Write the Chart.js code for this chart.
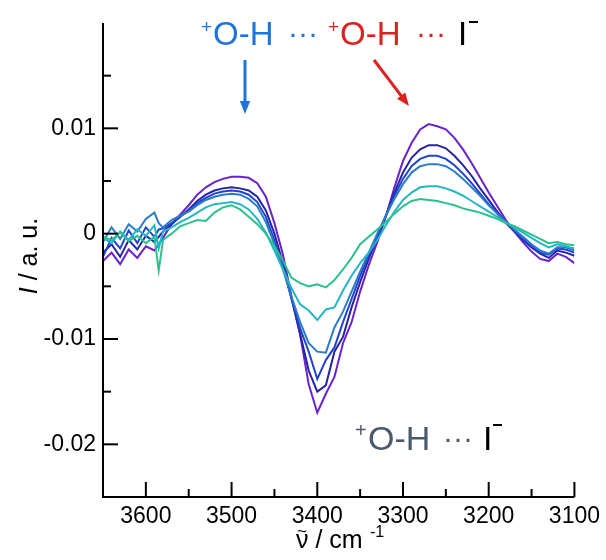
<!DOCTYPE html>
<html>
<head>
<meta charset="utf-8">
<script src="https://cdn.jsdelivr.net/npm/chart.js@4.4.0/dist/chart.umd.min.js"></script>
<style>
    html, body { margin: 0; padding: 0; background: #fff; }
</style>
</head>
<body>
<canvas id="spectraChart" width="606" height="560"></canvas>
<script>
// Wavenumber axis (cm-1), shared by every trace
const wavenumbers = [
    3650, 3640, 3630, 3620, 3610, 3600, 3590, 3585, 3580, 3570,
    3560, 3550, 3540, 3530, 3520, 3510, 3500, 3490, 3480, 3470,
    3460, 3450, 3440, 3430, 3420, 3410, 3400, 3390, 3380, 3370,
    3360, 3350, 3340, 3330, 3320, 3310, 3300, 3290, 3280, 3270,
    3260, 3250, 3240, 3230, 3220, 3210, 3200, 3190, 3180, 3170,
    3160, 3150, 3140, 3130, 3120, 3110, 3100
];

// Intensities, in units of 1e-3
const tracePurple = [
    -2.6, -1.8, -2.9, -1.5, -2.3, -1.2, -1.6, -1.0, -0.4, 0.9,
    1.8, 2.7, 3.7, 4.4, 4.9, 5.2, 5.4, 5.4, 5.3, 4.8,
    3.5, 1.0, -2.0, -6.0, -9.6, -14.3, -17.0, -15.2, -13.6, -10.4,
    -8.4, -5.5, -3.0, -0.8, 1.6, 4.4, 6.9, 8.6, 9.9, 10.4,
    10.2, 9.9, 9.1, 8.0, 6.7, 5.3, 3.9, 2.6, 1.3, 0.2,
    -0.8, -1.7, -2.4, -2.6, -1.9, -2.2, -2.8
];
const traceNavy = [
    -1.8, -1.0, -2.2, -0.6, -1.5, -0.2, -0.8, -0.3, 0.2, 0.9,
    1.6, 2.3, 3.1, 3.7, 4.1, 4.3, 4.4, 4.3, 4.1, 3.5,
    2.2, 0.0, -2.8, -6.2, -9.5, -13.0, -15.0, -14.4, -11.2, -9.8,
    -7.0, -4.6, -2.4, -0.4, 1.7, 3.9, 5.8, 7.2, 8.0, 8.4,
    8.4, 8.1, 7.4, 6.5, 5.5, 4.3, 3.2, 2.1, 1.1, 0.2,
    -0.6, -1.3, -1.9, -2.3, -1.6, -1.8, -2.1
];
const traceBlue = [
    -2.2, -0.4, -1.4, 0.3, -0.9, 0.6, -0.3, 0.4, 0.5, 1.0,
    1.6, 2.2, 2.9, 3.4, 3.8, 4.0, 4.1, 4.0, 3.7, 3.0,
    1.6, -0.6, -3.2, -6.2, -9.0, -11.2, -13.8, -12.0, -10.8, -8.4,
    -6.2, -4.0, -2.0, -0.2, 1.7, 3.6, 5.2, 6.4, 7.1, 7.4,
    7.4, 7.1, 6.5, 5.7, 4.8, 3.8, 2.8, 1.9, 1.0, 0.2,
    -0.5, -1.2, -1.8, -2.0, -1.4, -1.5, -1.8
];
const traceSteel = [
    -0.8, 0.6, -0.5, 0.9, 0.2, 1.4, 2.0, 1.0, 0.6, 1.3,
    1.7, 2.1, 2.7, 3.2, 3.5, 3.7, 3.8, 3.7, 3.3, 2.6,
    1.1, -1.0, -3.4, -6.0, -8.4, -10.4, -11.2, -11.3, -8.9, -7.4,
    -5.5, -3.6, -1.8, 0.0, 1.7, 3.3, 4.7, 5.8, 6.4, 6.6,
    6.6, 6.4, 5.9, 5.2, 4.4, 3.6, 2.7, 1.9, 1.1, 0.4,
    -0.3, -1.0, -1.6, -1.9, -1.3, -1.3, -1.6
];
const traceTeal = [
    -0.4, -0.9, 0.2, -0.6, 0.4, -0.2, 0.8, -1.4, 0.2, 0.6,
    1.1, 1.5, 2.0, 2.5, 2.8, 2.9, 3.0, 2.8, 2.3, 1.4,
    0.1, -1.6, -3.4, -5.2, -6.7, -7.3, -8.2, -7.2, -7.0, -5.4,
    -4.0, -2.8, -1.8, -0.6, 0.8, 2.1, 3.2, 3.9, 4.4, 4.5,
    4.5, 4.3, 4.0, 3.6, 3.1, 2.6, 2.1, 1.6, 1.1, 0.6,
    0.1, -0.4, -0.9, -1.3, -1.0, -1.2, -1.4
];
const traceGreen = [
    -0.3, -0.6, 0.1, -0.7, -0.2, -0.9, -0.3, -3.5, -0.6, 0.0,
    0.7, 1.0, 1.3, 1.2, 2.0, 2.5, 2.7, 2.3, 1.6, 0.9,
    0.0, -1.2, -2.6, -4.2, -4.7, -5.0, -4.8, -5.1, -4.4, -3.4,
    -2.3, -1.0, -0.3, 0.4, 1.1, 1.9, 2.6, 3.1, 3.3, 3.2,
    3.1, 2.9, 2.7, 2.4, 2.2, 2.0, 1.7, 1.4, 1.0, 0.7,
    0.3, -0.1, -0.5, -0.9, -0.8, -1.0, -1.1
];

// Tick labels
const xLabelValues = [3600, 3500, 3400, 3300, 3200, 3100];
const yLabelValues = [10, 0, -10, -20];
const yLabelTexts = ['0.01', '0', '-0.01', '-0.02'];

const fontFamily = '"Liberation Sans", Arial, sans-serif';

// Bottom trace first so the strongest one sits on top
const traces = [
    { values: traceGreen, color: '#2cc08c' },
    { values: traceTeal, color: '#22b6c8' },
    { values: traceSteel, color: '#2a7cc8' },
    { values: traceBlue, color: '#2244cc' },
    { values: traceNavy, color: '#2624a4' },
    { values: tracePurple, color: '#6a22cc' }
];

// Write a row of text pieces, each with its own x, baseline, size and colour
function drawPieces(ctx, pieces) {
    pieces.forEach(p => {
        ctx.font = (p.italic ? 'italic ' : '') + p.size + 'px ' + fontFamily;
        ctx.fillStyle = p.color;
        ctx.fillText(p.text, p.x, p.y);
    });
}

function drawArrow(ctx, x1, y1, x2, y2, color) {
    const angle = Math.atan2(y2 - y1, x2 - x1);
    const head = 14;
    ctx.strokeStyle = color;
    ctx.fillStyle = color;
    ctx.lineWidth = 3;
    ctx.beginPath();
    ctx.moveTo(x1, y1);
    ctx.lineTo(x2 - head * 0.8 * Math.cos(angle), y2 - head * 0.8 * Math.sin(angle));
    ctx.stroke();
    ctx.beginPath();
    ctx.moveTo(x2, y2);
    ctx.lineTo(x2 - head * Math.cos(angle - 0.38), y2 - head * Math.sin(angle - 0.38));
    ctx.lineTo(x2 - head * Math.cos(angle + 0.38), y2 - head * Math.sin(angle + 0.38));
    ctx.closePath();
    ctx.fill();
}

// Axis lines, inward ticks, axis titles and annotations
const decorations = {
    id: 'decorations',
    afterDraw(chart) {
        const { ctx, chartArea: area, scales: { x, y } } = chart;
        ctx.save();
        ctx.strokeStyle = '#000';
        ctx.lineWidth = 2;
        ctx.beginPath();
        ctx.moveTo(area.left, area.top);
        ctx.lineTo(area.left, area.bottom);
        ctx.lineTo(area.right, area.bottom);
        ctx.stroke();

        x.ticks.forEach(t => {
            if (t.value >= 3650) return;
            const px = x.getPixelForValue(t.value);
            const len = t.value % 100 === 0 ? 15 : 8;
            ctx.beginPath();
            ctx.moveTo(px, area.bottom);
            ctx.lineTo(px, area.bottom - len);
            ctx.stroke();
        });
        y.ticks.forEach(t => {
            if (t.value <= -25 || t.value >= 20) return;
            const py = y.getPixelForValue(t.value);
            const len = t.value % 10 === 0 ? 15 : 8;
            ctx.beginPath();
            ctx.moveTo(area.left, py);
            ctx.lineTo(area.left + len, py);
            ctx.stroke();
        });

        ctx.textAlign = 'left';
        ctx.textBaseline = 'alphabetic';

        // x title: wavenumber / cm-1
        drawPieces(ctx, [
            { text: '\u03BD / cm', x: 296, y: 548, size: 25, color: '#000' },
            { text: '~', x: 297, y: 537, size: 17, color: '#000' },
            { text: '-1', x: 370, y: 537, size: 16, color: '#000' }
        ]);

        // y title, rotated
        ctx.save();
        ctx.translate(37, 256);
        ctx.rotate(-Math.PI / 2);
        ctx.font = 'italic 25px ' + fontFamily;
        const wI = ctx.measureText('I').width;
        ctx.font = '25px ' + fontFamily;
        const wRest = ctx.measureText(' / a. u.').width;
        const start = -(wI + wRest) / 2;
        drawPieces(ctx, [
            { text: 'I', x: start, y: 0, size: 25, color: '#000', italic: true },
            { text: ' / a. u.', x: start + wI, y: 0, size: 25, color: '#000' }
        ]);
        ctx.restore();

        // top annotation
        const blue = '#1f74dc';
        const red = '#dd2020';
        drawPieces(ctx, [
            { text: '+', x: 201, y: 33, size: 19, color: blue },
            { text: 'O-H', x: 213, y: 45, size: 33, color: blue },
            { text: '\u00B7\u00B7\u00B7', x: 288, y: 43, size: 30, color: blue },
            { text: '+', x: 328, y: 33, size: 19, color: red },
            { text: 'O-H', x: 340, y: 45, size: 33, color: red },
            { text: '\u00B7\u00B7\u00B7', x: 416, y: 43, size: 30, color: red },
            { text: 'I', x: 458, y: 45, size: 33, color: '#000' }
        ]);
        ctx.fillStyle = '#000';
        ctx.fillRect(469, 21, 9, 2);

        drawArrow(ctx, 245, 60, 245, 114, blue);
        drawArrow(ctx, 374, 60, 409, 106, red);

        // bottom annotation
        const slate = '#4a5a6c';
        drawPieces(ctx, [
            { text: '+', x: 355, y: 437, size: 20, color: slate },
            { text: 'O-H', x: 368, y: 450, size: 34, color: slate },
            { text: '\u00B7\u00B7\u00B7', x: 443, y: 448, size: 30, color: slate },
            { text: 'I', x: 483, y: 450, size: 34, color: '#000' }
        ]);
        ctx.fillRect(493, 424, 9, 2);

        ctx.restore();
    }
};

function initializeChart() {
    const canvas = document.getElementById('spectraChart');

    new Chart(canvas, {
        type: 'line',
        data: {
            datasets: traces.map(tr => ({
                data: wavenumbers.map((w, i) => ({ x: w, y: tr.values[i] })),
                borderColor: tr.color,
                borderWidth: 2,
                pointRadius: 0,
                fill: false,
                tension: 0
            }))
        },
        options: {
            responsive: false,
            animation: false,
            layout: { padding: { top: 23, right: 28, left: 0, bottom: 0 } },
            plugins: {
                legend: { display: false },
                tooltip: { enabled: false }
            },
            scales: {
                x: {
                    type: 'linear',
                    reverse: true,
                    min: 3100,
                    max: 3650,
                    grid: { display: false, drawTicks: false },
                    border: { display: false },
                    ticks: {
                        stepSize: 50,
                        autoSkip: false,
                        maxRotation: 0,
                        padding: 6,
                        color: '#000',
                        font: { family: fontFamily, size: 23 },
                        callback: v => xLabelValues.includes(v) ? String(v) : ''
                    },
                    afterFit: scale => { scale.height = 63; }
                },
                y: {
                    type: 'linear',
                    min: -25,
                    max: 20,
                    grid: { display: false, drawTicks: false },
                    border: { display: false },
                    ticks: {
                        stepSize: 5,
                        autoSkip: false,
                        padding: 7,
                        color: '#000',
                        font: { family: fontFamily, size: 23 },
                        callback: v => {
                            const k = yLabelValues.indexOf(v);
                            return k >= 0 ? yLabelTexts[k] : '';
                        }
                    },
                    afterFit: scale => { scale.width = 103; }
                }
            }
        },
        plugins: [decorations]
    });
}

document.addEventListener('DOMContentLoaded', initializeChart);
</script>
</body>
</html>
